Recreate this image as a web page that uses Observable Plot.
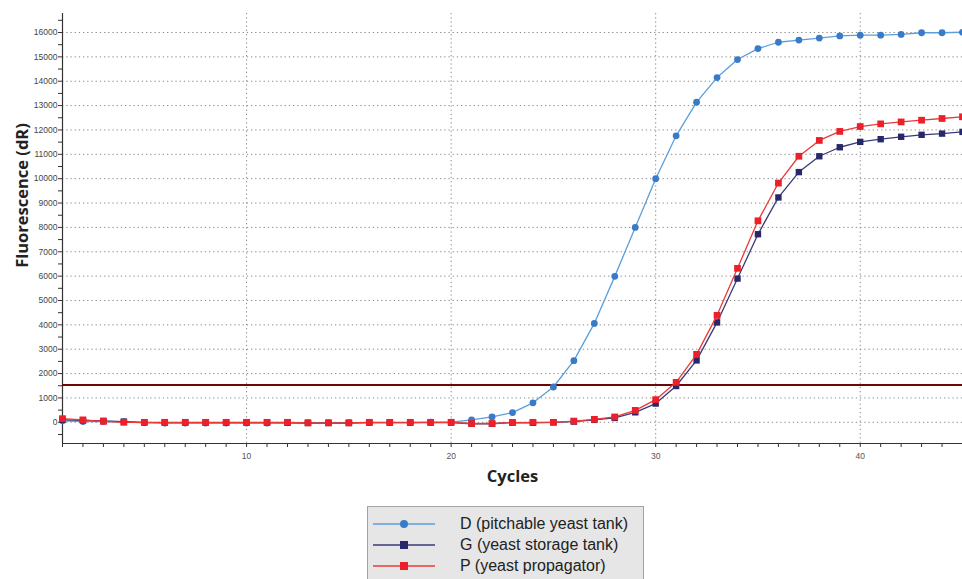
<!DOCTYPE html>
<html>
<head>
<meta charset="utf-8">
<script src="https://cdn.jsdelivr.net/npm/d3@7"></script>
<script src="https://cdn.jsdelivr.net/npm/@observablehq/plot@0.6"></script>
<style>
  body { margin: 0; background: #fff; }
  #wrap { position: relative; width: 962px; height: 579px; overflow: hidden; }
  #legend {
    position: absolute; left: 367px; top: 506px; width: 277px; height: 90px;
    background: #e6e6e6; border: 1px solid #a3a3a3; box-sizing: border-box;
    font-family: "Liberation Sans", Arial, sans-serif; font-size: 16px; color: #222;
    padding-top: 6px;
  }
  .row { display: flex; align-items: center; height: 21px; }
  .row svg { margin-left: 5px; margin-right: 25px; }
</style>
</head>
<body>
<div id="wrap">
  <div id="chart"></div>
  <div id="legend"></div>
</div>
<script>
const cycles = [1,2,3,4,5,6,7,8,9,10,11,12,13,14,15,16,17,18,19,20,21,22,23,24,25,26,27,28,29,30,31,32,33,34,35,36,37,38,39,40,41,42,43,44,45];
const seriesD = [60,30,30,20,-20,-30,-30,-30,-30,-30,-30,-20,-10,-10,-10,-10,-10,-10,10,10,100,220,400,800,1450,2530,4060,5990,8000,10000,11760,13140,14150,14890,15340,15600,15690,15770,15860,15890,15890,15920,15990,15990,16010];
const seriesG = [100,80,60,30,0,-10,-10,-10,-10,-10,-10,-20,-30,-30,-30,-10,-10,-10,-10,-10,-60,-60,-10,-20,0,30,100,180,410,770,1490,2540,4100,5900,7720,9230,10270,10920,11290,11510,11620,11720,11800,11850,11920];
const seriesP = [150,100,40,0,0,0,0,0,0,0,0,0,-20,-20,-20,0,0,0,0,0,-50,-50,-10,0,0,50,120,220,490,930,1640,2790,4390,6320,8270,9820,10920,11570,11940,12140,12250,12330,12400,12470,12540];
const seriesNames = ["D (pitchable yeast tank)", "G (yeast storage tank)", "P (yeast propagator)"];
const threshold = 1530;
const yTicks = [-500,0,500,1000,1500,2000,2500,3000,3500,4000,4500,5000,5500,6000,6500,7000,7500,8000,8500,9000,9500,10000,10500,11000,11500,12000,12500,13000,13500,14000,14500,15000,15500,16000,16500];
const yGrid = [0,1000,2000,3000,4000,5000,6000,7000,8000,9000,10000,11000,12000,13000,14000,15000,16000];
const xGrid = [10,20,30,40];
const yDomain = [-870, 16780];
const xDomain = [1, 45];

const colors = { D: {line: "#5a9fdc", mark: "#3a7bc8"}, G: {line: "#3a3a78", mark: "#27276b"}, P: {line: "#e83a3a", mark: "#ec2028"} };

const toRows = (vals) => cycles.map((c, i) => ({cycle: c, value: vals[i]}));
const dD = toRows(seriesD), dG = toRows(seriesG), dP = toRows(seriesP);

const chart = Plot.plot({
  width: 962,
  height: 500,
  marginLeft: 62,
  marginRight: 0,
  marginTop: 13,
  marginBottom: 57,
  style: { fontFamily: "Liberation Sans, Arial, sans-serif", background: "transparent" },
  x: { domain: xDomain },
  y: { domain: yDomain },
  marks: [
    Plot.gridY(yGrid, { stroke: "#8a8a8a", strokeOpacity: 1, strokeDasharray: "1.3,2.9", strokeWidth: 1 }),
    Plot.gridX(xGrid, { stroke: "#8a8a8a", strokeOpacity: 1, strokeDasharray: "1.3,2.9", strokeWidth: 1 }),
    Plot.axisY(yTicks, { tickSize: 4, tickPadding: 1, fontSize: 8.5, color: "#444", stroke: "#333",
      tickFormat: d => (d % 1000 === 0 ? String(d) : ""), label: null }),
    Plot.axisX(cycles, { tickSize: 4, tickPadding: 5, fontSize: 8.5, color: "#555", stroke: "#333",
      tickFormat: d => (d % 10 === 0 ? String(d) : ""), label: null }),
    Plot.ruleX([xDomain[0]], { stroke: "#333", strokeWidth: 1.2 }),
    Plot.ruleY([yDomain[0]], { stroke: "#333", strokeWidth: 1.2 }),
    Plot.ruleY([threshold], { stroke: "#6a0808", strokeWidth: 2 }),
    Plot.line(dD, { x: "cycle", y: "value", stroke: colors.D.line, strokeWidth: 1.3 }),
    Plot.dot(dD, { x: "cycle", y: "value", fill: colors.D.mark, r: 3.4, symbol: "circle" }),
    Plot.line(dG, { x: "cycle", y: "value", stroke: colors.G.line, strokeWidth: 1.3 }),
    Plot.dot(dG, { x: "cycle", y: "value", fill: colors.G.mark, r: 3.6, symbol: "square" }),
    Plot.line(dP, { x: "cycle", y: "value", stroke: colors.P.line, strokeWidth: 1.3 }),
    Plot.dot(dP, { x: "cycle", y: "value", fill: colors.P.mark, r: 3.8, symbol: "square" }),
    Plot.text(["Fluorescence (dR)"], { frameAnchor: "left", textAnchor: "middle", rotate: -90, dx: -40, dy: -33,
      fontSize: 16.5, fontWeight: "bold", fill: "#222", fontFamily: "Open Sans, sans-serif" }),
    Plot.text(["Cycles"], { frameAnchor: "bottom", dy: 38, fontSize: 16.5, fontWeight: "bold",
      fill: "#222", fontFamily: "Open Sans, sans-serif" })
  ]
});
document.getElementById("chart").appendChild(chart);

// legend
const legend = d3.select("#legend");
const keys = ["D", "G", "P"];
keys.forEach((k, i) => {
  const row = legend.append("div").attr("class", "row");
  const svg = row.append("svg").attr("width", 62).attr("height", 14);
  svg.append("line").attr("x1", 0).attr("x2", 62).attr("y1", 7).attr("y2", 7)
    .attr("stroke", colors[k].line).attr("stroke-width", 1.5);
  if (k === "D") svg.append("circle").attr("cx", 31).attr("cy", 7).attr("r", 4).attr("fill", colors[k].mark);
  else svg.append("rect").attr("x", 27).attr("y", 3).attr("width", 8).attr("height", 8).attr("fill", colors[k].mark);
  row.append("span").text(seriesNames[i]);
});
</script>
</body>
</html>
